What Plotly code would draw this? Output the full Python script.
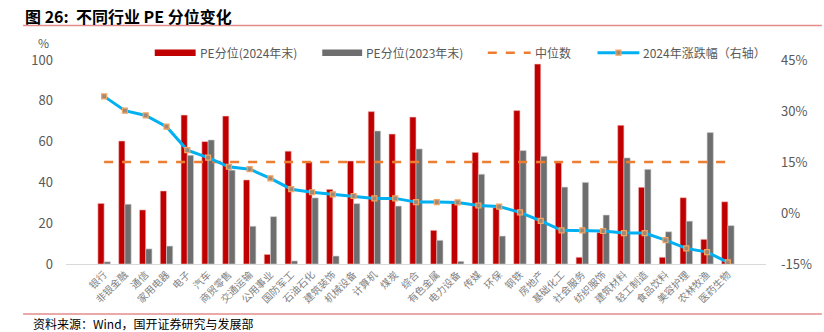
import plotly.graph_objects as go

categories = ["银行", "非银金融", "通信", "家用电器", "电子", "汽车", "商贸零售", "交通运输",
              "公用事业", "国防军工", "石油石化", "建筑装饰", "机械设备", "计算机", "煤炭", "综合",
              "有色金属", "电力设备", "传媒", "环保", "钢铁", "房地产", "基础化工", "社会服务",
              "纺织服饰", "建筑材料", "轻工制造", "食品饮料", "美容护理", "农林牧渔", "医药生物"]
pe_2024 = [29.7, 60.3, 26.5, 35.8, 73.0, 60.0, 72.5, 41.2, 4.7, 55.3, 50.0, 36.6, 50.5, 74.7, 63.7, 72.0,
           16.5, 29.7, 54.7, 27.6, 75.2, 98.0, 49.7, 3.3, 15.4, 68.0, 37.6, 3.3, 32.5, 12.1, 30.5]
pe_2023 = [1.1, 29.3, 7.4, 8.8, 53.3, 60.8, 46.0, 18.5, 23.2, 1.5, 32.4, 3.9, 29.6, 65.2, 28.4, 56.4,
           11.6, 1.3, 44.0, 13.7, 55.6, 52.8, 37.7, 40.0, 24.0, 52.0, 46.4, 15.8, 21.0, 64.4, 18.8]
chg_2024 = [34.3, 30.1, 28.7, 25.4, 18.5, 16.3, 13.6, 12.9, 10.2, 7.0, 6.1, 5.5, 5.0, 4.3, 4.3, 3.2,
            3.2, 3.1, 2.2, 1.9, 0.2, -2.3, -5.1, -5.1, -5.3, -5.9, -5.9, -8.0, -10.4, -11.5, -14.5]
median_value = 50
median_line = [median_value] * len(categories)

left_ticks = [0, 20, 40, 60, 80, 100]
right_ticks = [-15, 0, 15, 30, 45]
right_tick_text = ["-15%", "0%", "15%", "30%", "45%"]

series_names = ["PE分位(2024年末)", "PE分位(2023年末)", "中位数", "2024年涨跌幅（右轴）"]

FONT = "Noto Sans CJK SC, Microsoft YaHei, sans-serif"
GRAY = "#595959"
RED = "#C00000"
DGRAY = "#6E6E6E"
ORANGE = "#ED7D31"
BLUE = "#00B0F0"

W, H = 824, 332
L, R, T, B = 66, 56, 60, 68
PW, PH = W - L - R, H - T - B


def px(x):
    return (x - L) / PW


def py(y):
    return (H - B - y) / PH


fig = go.Figure()
fig.add_trace(go.Bar(x=categories, y=pe_2024, name=series_names[0],
                     marker=dict(color=RED, line=dict(color="#F2C4C4", width=0.6))))
fig.add_trace(go.Bar(x=categories, y=pe_2023, name=series_names[1],
                     marker=dict(color=DGRAY, line=dict(color="#D0D0D0", width=0.6))))
fig.add_trace(go.Scatter(x=categories, y=median_line, name=series_names[2], mode="lines",
                         line=dict(color=ORANGE, width=2.5, dash="dash")))
fig.add_trace(go.Scatter(x=categories, y=chg_2024, name=series_names[3], mode="lines+markers",
                         yaxis="y2",
                         line=dict(color=BLUE, width=3),
                         marker=dict(symbol="square", size=5, color="#9E8A7A",
                                     line=dict(color="#F4A460", width=1.2))))

fig.update_layout(
    width=W, height=H,
    margin=dict(l=L, r=R, t=T, b=B),
    plot_bgcolor="white", paper_bgcolor="white",
    barmode="group", bargap=0.40, bargroupgap=0,
    font=dict(family=FONT, color=GRAY, size=12),
    showlegend=False,
    xaxis=dict(type="category", tickangle=-45, tickfont=dict(size=10, color="#7F7F7F", family=FONT),
               showline=True, linecolor="#D9D9D9", linewidth=1, ticks="", showgrid=False),
    yaxis=dict(range=[0, 100], tickvals=left_ticks, showgrid=False, zeroline=False,
               tickfont=dict(size=13, color=GRAY), ticks="", ticklabelstandoff=12),
    yaxis2=dict(range=[-15, 45], tickvals=right_ticks, ticktext=right_tick_text, overlaying="y",
                side="right", showgrid=False, zeroline=False, tickfont=dict(size=13, color=GRAY),
                ticks="", ticklabelstandoff=14),
)

# manual legend
ly = 52.7
fig.add_shape(type="rect", xref="paper", yref="paper", x0=px(155), x1=px(196), y0=py(49.5), y1=py(56),
              fillcolor=RED, line=dict(width=0))
fig.add_shape(type="rect", xref="paper", yref="paper", x0=px(323), x1=px(363), y0=py(49.5), y1=py(56),
              fillcolor=DGRAY, line=dict(width=0))
fig.add_shape(type="line", xref="paper", yref="paper", x0=px(489), x1=px(532), y0=py(ly), y1=py(ly),
              line=dict(color=ORANGE, width=2.5, dash="dash"))
fig.add_shape(type="line", xref="paper", yref="paper", x0=px(599), x1=px(641), y0=py(ly), y1=py(ly),
              line=dict(color=BLUE, width=3))
fig.add_shape(type="rect", xref="paper", yref="paper", x0=px(617.5), x1=px(622.5), y0=py(ly + 2.5),
              y1=py(ly - 2.5), fillcolor="#9E8A7A", line=dict(color="#F4A460", width=1.2))
for xt, name in zip([200, 367, 536, 645], series_names):
    fig.add_annotation(xref="paper", yref="paper", x=px(xt), y=py(ly), xanchor="left", yanchor="middle",
                       text=name, showarrow=False, font=dict(size=12, color=GRAY), xshift=-2)

fig.add_annotation(xref="paper", yref="paper", x=px(25), y=py(16), xanchor="left", yanchor="middle",
                   text="<b>图 26:  不同行业 PE 分位变化</b>", showarrow=False, xshift=-2,
                   font=dict(size=16, color="#000000", family=FONT))
fig.add_annotation(xref="paper", yref="paper", x=px(43), y=py(42.5), xanchor="center", yanchor="middle",
                   text="%", showarrow=False, font=dict(size=12, color=GRAY))
fig.add_annotation(xref="paper", yref="paper", x=px(33), y=py(323), xanchor="left", yanchor="middle",
                   text="资料来源：Wind，国开证券研究与发展部", showarrow=False, xshift=-2,
                   font=dict(size=12, color="#000000", family=FONT))
fig.add_shape(type="line", xref="paper", yref="paper", x0=px(23), x1=px(W), y0=py(25.5), y1=py(25.5),
              line=dict(color="#E38B8B", width=1.5))
fig.add_shape(type="line", xref="paper", yref="paper", x0=px(23), x1=px(W), y0=py(314), y1=py(314),
              line=dict(color="#E38B8B", width=1.5))

fig.write_html("out.html")
